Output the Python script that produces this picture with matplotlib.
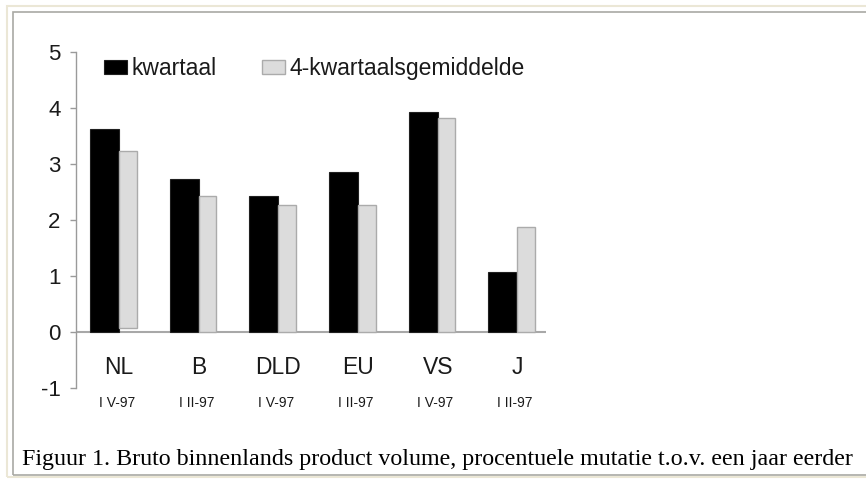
import matplotlib
matplotlib.use('Agg')
import matplotlib.pyplot as plt
import numpy as np
from matplotlib.patches import Rectangle

# 数据
landen = ['NL', 'B', 'DLD', 'EU', 'VS', 'J']
perioden = ['I V-97', 'I II-97', 'I V-97', 'I II-97', 'I V-97', 'I II-97']
kwartaal = [3.62, 2.74, 2.43, 2.85, 3.92, 1.08]
gemiddelde = [3.24, 2.43, 2.27, 2.27, 3.83, 1.87]
gemiddelde_onder = [0.08, 0, 0, 0, 0, 0]  # NL-balk begint net boven nul in het origineel
yticks = [-1, 0, 1, 2, 3, 4, 5]

plt.rcParams['font.family'] = ['Liberation Sans', 'DejaVu Sans']
plt.rcParams['axes.unicode_minus'] = False

fig = plt.figure(figsize=(8.66, 4.79), dpi=100)
W, H = 866, 479

# kader rond de figuur
fig.add_artist(Rectangle((7 / W, 1 - 477 / H), 1.0, (477 - 6) / H, transform=fig.transFigure,
                         fill=False, edgecolor='#ebe7d6', linewidth=1.5))
fig.add_artist(Rectangle((12.5 / W, 1 - 475 / H), 1.0, (475 - 11.5) / H, transform=fig.transFigure,
                         fill=False, edgecolor='#a9a9a4', linewidth=1.2))

ax = fig.add_axes([76 / W, 1 - 388 / H, (546 - 76) / W, (388 - 52) / H])
x = np.arange(len(landen))

ax.bar(x - 0.364, kwartaal, width=0.364, align='edge', color='black',
       edgecolor='#202020', linewidth=0.8, label='kwartaal', zorder=3)
ax.bar(x, np.array(gemiddelde) - np.array(gemiddelde_onder), bottom=gemiddelde_onder,
       width=0.222, align='edge', color='#dcdcdc', edgecolor='#ababab', linewidth=1.0,
       label='4-kwartaalsgemiddelde', zorder=3)

ax.axhline(0, color='#a8a8a8', linewidth=1.5, zorder=2)

ax.set_xlim(-0.54, 5.36)
ax.set_ylim(-1, 5)
ax.set_yticks(yticks)
ax.set_xticks([])
for s in ['top', 'right', 'bottom']:
    ax.spines[s].set_visible(False)
ax.spines['left'].set_color('#9a9a9a')
ax.spines['left'].set_linewidth(1.0)
ax.tick_params(axis='y', direction='out', length=4, width=1, color='#9a9a9a',
               labelsize=16, pad=7, labelcolor='#1a1a1a')

for i in range(len(landen)):
    ax.text(x[i], -0.64, landen[i], ha='center', va='center', fontsize=16.5, color='#1a1a1a')
    ax.text(x[i] - 0.03, -1.27, perioden[i], ha='center', va='center', fontsize=10,
            color='#1a1a1a', clip_on=False)

leg = ax.legend(loc='upper left', bbox_to_anchor=(104 / W, 1 - 57 / H),
                bbox_transform=fig.transFigure, ncol=2, frameon=False, fontsize=16.5,
                handlelength=1.0, handleheight=0.6, handletextpad=0.2,
                columnspacing=2.0, borderpad=0, borderaxespad=0)
for t in leg.get_texts():
    t.set_color('#1a1a1a')

fig.text(22 / W, 1 - 459 / H,
         'Figuur 1. Bruto binnenlands product volume, procentuele mutatie t.o.v. een jaar eerder',
         fontsize=17.3, family=['Liberation Serif', 'DejaVu Serif'], ha='left', va='center',
         color='black')

fig.savefig('out.png', dpi=100)
